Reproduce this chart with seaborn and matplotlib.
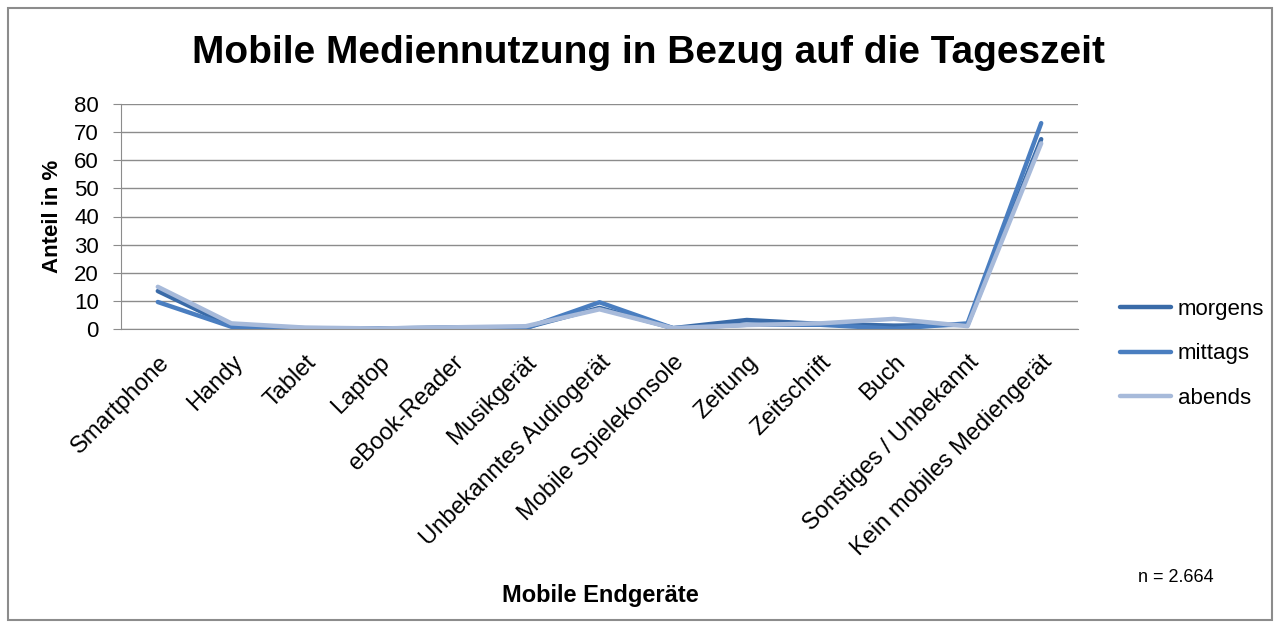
import matplotlib.pyplot as plt
import matplotlib.ticker as mticker
import matplotlib.transforms as mtransforms
import numpy as np
import pandas as pd
import seaborn as sns
from matplotlib.patches import Rectangle

geraete = ['Smartphone', 'Handy', 'Tablet', 'Laptop', 'eBook-Reader', 'Musikgerät',
           'Unbekanntes Audiogerät', 'Mobile Spielekonsole', 'Zeitung', 'Zeitschrift',
           'Buch', 'Sonstiges / Unbekannt', 'Kein mobiles Mediengerät']
morgens = [13.5, 1.0, 0.3, 0.2, 0.5, 0.5, 7.5, 0.3, 3.2, 1.8, 1.2, 1.5, 67.5]
mittags = [9.6, 0.8, 0.2, 0.2, 0.4, 0.3, 9.5, 0.3, 1.5, 1.5, 0.1, 2.0, 73.2]
abends = [15.0, 2.0, 0.5, 0.2, 0.6, 1.0, 7.0, 0.3, 1.4, 2.0, 3.6, 1.0, 66.0]

df = pd.DataFrame({'Gerät': geraete, 'morgens': morgens, 'mittags': mittags, 'abends': abends})
df = df.melt(id_vars='Gerät', var_name='Zeit', value_name='Anteil')
df['pos'] = df['Gerät'].map({g: i for i, g in enumerate(geraete)})

farben = {'morgens': '#3A6BA8', 'mittags': '#4A7EC0', 'abends': '#A7BADA'}
grau = '#8c8c8c'

sns.set_style('white')
plt.rcParams['font.family'] = ['Liberation Sans', 'DejaVu Sans']
plt.rcParams['text.color'] = 'black'
plt.rcParams['axes.labelcolor'] = 'black'

fig = plt.figure(figsize=(12.8, 6.28), dpi=100)
fig.patches.append(Rectangle((8 / 1280, 8 / 628), 1264 / 1280, 612 / 628, transform=fig.transFigure,
                             fill=False, edgecolor=grau, linewidth=1.5))
ax = fig.add_axes([121 / 1280, 1 - 329 / 628, (1078 - 121) / 1280, (329 - 104) / 628])

sns.lineplot(data=df, x='pos', y='Anteil', hue='Zeit', hue_order=['morgens', 'mittags', 'abends'],
             palette=farben, linewidth=3.2, ax=ax, legend=False, sort=False)

ax.set_xlim(-0.5, len(geraete) - 0.5)
ax.set_ylim(0, 80)
ax.yaxis.set_major_locator(mticker.MultipleLocator(10))
ax.yaxis.grid(True, color=grau, linewidth=1)
ax.set_axisbelow(True)
for s in ['top', 'right']:
    ax.spines[s].set_visible(False)
ax.spines['left'].set_color(grau)
ax.spines['bottom'].set_color(grau)

ax.set_xticks(np.arange(len(geraete)))
ax.set_xticklabels(geraete, rotation=45, ha='right', va='top', rotation_mode='anchor', fontsize=17)
shift = mtransforms.ScaledTranslation(5 / 100, 0, fig.dpi_scale_trans)
for lbl in ax.get_xticklabels():
    lbl.set_transform(lbl.get_transform() + shift)
ax.set_xticks(np.arange(len(geraete) + 1) - 0.5, minor=True)
ax.tick_params(axis='x', which='major', length=0, pad=16, labelcolor='black')
ax.tick_params(axis='x', which='minor', length=6, color=grau, direction='out')
ax.tick_params(axis='y', length=6, color=grau, direction='out', labelsize=16, left=True,
               labelcolor='black', pad=10)

ax.set_xlabel('Mobile Endgeräte', fontsize=17, fontweight='bold')
ax.xaxis.set_label_coords((600 - 121) / (1078 - 121), -(584 - 329) / (329 - 104))
ax.set_ylabel('Anteil in %', fontsize=16, fontweight='bold')
ax.yaxis.set_label_coords(-(121 - 63) / (1078 - 121), 0.5)

fig.text(648 / 1280, 1 - 53 / 628, 'Mobile Mediennutzung in Bezug auf die Tageszeit',
         ha='center', va='center', fontsize=28, fontweight='bold')
fig.text(1176 / 1280, 1 - 578 / 628, 'n = 2.664', ha='center', va='center', fontsize=13)

handles = [plt.Line2D([], [], color=farben[k], linewidth=3.2) for k in ['morgens', 'mittags', 'abends']]
fig.legend(handles, ['morgens', 'mittags', 'abends'], loc='center left',
           bbox_to_anchor=(1100 / 1280, 1 - 354 / 628), frameon=False, fontsize=16,
           handlelength=2.3, handletextpad=0.3, labelspacing=1.05)

fig.savefig('out.png', dpi=100)
